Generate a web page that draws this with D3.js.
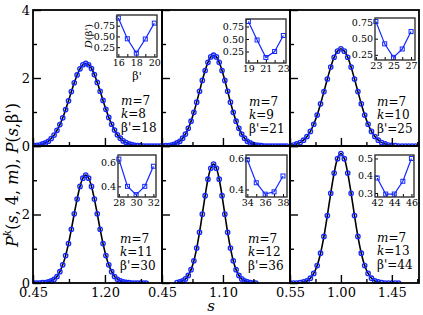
<!DOCTYPE html>
<html>
<head>
<meta charset="utf-8">
<script src="https://cdn.jsdelivr.net/npm/d3@7"></script>
<style>
  body { margin: 0; background: #fff; }
  svg { display: block; }
  text { font-family: "DejaVu Serif", serif; fill: #000; }
</style>
</head>
<body>
<div id="chart"></div>
<script>
// spacing values s (shared grid of the histograms)
const sGrid = [0.46,0.49,0.52,0.55,0.58,0.61,0.64,0.67,0.70,0.73,0.76,0.79,0.82,0.85,0.88,0.91,0.94,0.97,1.00,
  1.03,1.06,1.09,1.12,1.15,1.18,1.21,1.24,1.27,1.30,1.33,1.36,1.39,1.42,1.45,1.48,1.51,1.54,1.57,1.60,1.63,1.66,1.69,1.72,1.75,1.78];

// P^k(s,4,m) for each k (null = no point)
const pK8  = [0.01,0.02,0.03,0.06,0.09,0.14,0.22,0.32,0.46,0.63,0.83,1.07,1.33,1.60,1.86,2.09,2.27,2.39,2.43,
  2.39,2.28,2.10,1.87,1.61,1.34,1.08,0.84,0.64,0.47,0.33,0.23,0.15,0.10,0.06,0.04,0.02,0.01,0.01,0,0,0,0,0,0,0];
const pK9  = [0,0.01,0.01,0.03,0.05,0.09,0.14,0.23,0.35,0.52,0.73,0.99,1.29,1.61,1.93,2.22,2.46,2.62,2.67,
  2.62,2.46,2.22,1.93,1.61,1.29,0.99,0.73,0.52,0.35,0.23,0.14,0.09,0.05,0.03,0.02,0.01,0,0,0,0,0,0,0,0,0];
const pK10 = [null,null,null,0.01,0.03,0.06,0.10,0.17,0.28,0.43,0.64,0.91,1.24,1.60,1.97,2.32,2.61,2.79,2.86,
  2.79,2.61,2.32,1.97,1.60,1.24,0.91,0.64,0.43,0.28,0.17,0.10,0.06,0.03,0.02,0.01,0,0,0,0,0,0,0,null,null,null];
const pK11 = [0,0,0,0.01,0.01,0.03,0.06,0.11,0.19,0.33,0.53,0.80,1.15,1.57,2.02,2.45,2.82,3.06,3.15,
  3.06,2.82,2.45,2.02,1.57,1.15,0.80,0.53,0.33,0.19,0.11,0.06,0.03,0.02,0.01,0,0,0,0,0,0,null,null,null,null,null];
const pK12 = [null,null,null,null,null,0.01,0.03,0.06,0.12,0.22,0.39,0.65,1.02,1.48,2.01,2.55,3.03,3.35,3.47,
  3.35,3.03,2.55,2.01,1.48,1.02,0.65,0.39,0.22,0.12,0.06,0.03,0.01,0,0,null,null,null,null,null,null,null,null,null,null,null];
const pK13 = [null,null,null,0,0,0,0.01,0.03,0.06,0.14,0.28,0.51,0.87,1.36,1.97,2.62,3.21,3.63,3.78,
  3.63,3.21,2.62,1.97,1.36,0.87,0.51,0.28,0.14,0.06,0.03,0.01,0,0,0,0,0,null,null,null,null,null,null,null,null,null];

// inset data: D(beta') against beta'
const betaK8 = [16,17,18,19,20],  dK8  = [0.93,0.445,0.11,0.44,0.81];
const betaK9 = [19,20,21,22,23],  dK9  = [0.85,0.48,0.13,0.25,0.57];
const betaK10 = [23,24,25,26,27], dK10 = [0.765,0.42,0.21,0.34,0.61];
const betaK11 = [28,29,30,31,32], dK11 = [0.63,0.40,0.33,0.40,0.57];
const betaK12 = [34,35,36,37,38], dK12 = [0.59,0.443,0.37,0.385,0.486];
const betaK13 = [42,43,44,45,46], dK13 = [0.387,0.294,0.294,0.368,0.50];

const kValues = [8, 9, 10, 11, 12, 13];
const betaBest = [18, 21, 25, 30, 36, 44];
const mValue = 7;

// tick values / labels
const xMajor = [[0.45, 1.20], [0.45, 1.10], [0.55, 1.00, 1.45]];
const xMinor = [[0.825, 1.575], [0.775, 1.425], [0.775, 1.225, 1.675]];
const yMajor = [0, 2, 4];
const yMinor = [1, 3];
const insetYTicks = [[0.25,0.5,0.75],[0.25,0.5,0.75],[0.25,0.5,0.75],[0.4,0.6],[0.4,0.6],[0.3,0.4,0.5]];

// layout
const W = 423, H = 315;
const colX = [33, 162, 290, 419];
const rowY = [10, 146, 283];
const colDomain = [[0.45, 1.795], [0.45, 1.815], [0.55, 1.69]];
const insetBox = [[117,157,15,57],[246,286,19,63],[375,415,18,60],[118,156,155,197],[246,287,155,197],[375,414,155,197]];
const insetXDom = [[15.85,20.3],[18.73,23.3],[22.9,27.45],[27.9,32.3],[33.85,38.45],[41.75,46.3]];
const insetYDom = [[0.02,1.0],[0.02,0.9],[0.17,0.82],[0.31,0.665],[0.352,0.62],[0.277,0.52]];
const notePos = [[121,105],[249,106],[377,106],[120,243],[248,243],[377,242]];

const BLUE = '#1428ff';

const pSeries = [pK8, pK9, pK10, pK11, pK12, pK13];
const betaSeries = [betaK8, betaK9, betaK10, betaK11, betaK12, betaK13];
const dSeries = [dK8, dK9, dK10, dK11, dK12, dK13];

const svg = d3.select('#chart').append('svg')
    .attr('width', W)
    .attr('height', H);

pSeries.forEach((p, i) => {
    const row = Math.floor(i / 3), col = i % 3;
    const x = d3.scaleLinear().domain(colDomain[col]).range([colX[col], colX[col + 1]]);
    const y = d3.scaleLinear().domain([0, 4]).range([rowY[row + 1], rowY[row]]);
    const pts = sGrid.map((s, j) => ({ s: s, p: p[j] })).filter(d => d.p !== null);

    const clipId = 'clip' + i;
    svg.append('clipPath').attr('id', clipId)
        .append('rect')
        .attr('x', colX[col]).attr('y', rowY[row] - 1)
        .attr('width', colX[col + 1] - colX[col])
        .attr('height', rowY[row + 1] - rowY[row] + 2);

    const g = svg.append('g');
    const plot = g.append('g').attr('clip-path', 'url(#' + clipId + ')');

    // ticks (inward)
    const bottom = g.append('g').attr('transform', 'translate(0,' + rowY[row + 1] + ')');
    bottom.call(d3.axisBottom(x).tickValues(xMajor[col]).tickSize(-8).tickPadding(5)
        .tickFormat(row === 1 ? d3.format('.2f') : ''));
    bottom.append('g').call(d3.axisBottom(x).tickValues(xMinor[col]).tickSize(-4).tickFormat(''));

    const left = g.append('g').attr('transform', 'translate(' + colX[col] + ',0)');
    left.call(d3.axisLeft(y).tickValues(yMajor).tickSize(-8).tickPadding(3)
        .tickFormat(d => (col === 0 && !(row === 1 && d === 4)) ? d : ''));
    left.append('g').call(d3.axisLeft(y).tickValues(yMinor).tickSize(-4).tickFormat(''));

    g.selectAll('.domain').remove();
    g.selectAll('.tick line').attr('stroke', '#000').attr('stroke-width', 1.4);
    g.selectAll('.tick text').attr('font-size', 13).attr('font-family', '"DejaVu Serif", serif');

    // curve and points
    plot.append('path')
        .datum(pts)
        .attr('fill', 'none')
        .attr('stroke', '#000')
        .attr('stroke-width', 1.6)
        .attr('d', d3.line().x(d => x(d.s)).y(d => y(d.p)).curve(d3.curveCatmullRom));

    plot.selectAll('circle')
        .data(pts)
        .enter().append('circle')
        .attr('cx', d => x(d.s))
        .attr('cy', d => y(d.p))
        .attr('r', 2.2)
        .attr('fill', 'none')
        .attr('stroke', BLUE)
        .attr('stroke-width', 1.3);

    // panel frame
    g.append('rect')
        .attr('x', colX[col]).attr('y', rowY[row])
        .attr('width', colX[col + 1] - colX[col])
        .attr('height', rowY[row + 1] - rowY[row])
        .attr('fill', 'none')
        .attr('stroke', '#000')
        .attr('stroke-width', 1.8);

    // labels m, k, beta'
    const nx = notePos[i][0], ny = notePos[i][1];
    const t1 = g.append('text').attr('x', nx).attr('y', ny).attr('font-size', 12);
    t1.append('tspan').attr('font-style', 'italic').text('m');
    t1.append('tspan').text('=' + mValue);
    const t2 = g.append('text').attr('x', nx).attr('y', ny + 13).attr('font-size', 12);
    t2.append('tspan').attr('font-style', 'italic').text('k');
    t2.append('tspan').text('=' + kValues[i]);
    g.append('text').attr('x', nx).attr('y', ny + 26.5).attr('font-size', 12)
        .text("\u03b2'=" + betaBest[i]);

    // inset
    const b = insetBox[i];
    const ix = d3.scaleLinear().domain(insetXDom[i]).range([b[0], b[1]]);
    const iy = d3.scaleLinear().domain(insetYDom[i]).range([b[3], b[2]]);
    const ig = g.append('g');
    ig.append('rect')
        .attr('x', b[0]).attr('y', b[2])
        .attr('width', b[1] - b[0]).attr('height', b[3] - b[2])
        .attr('fill', '#fff');

    const beta = betaSeries[i];
    ig.append('g').attr('transform', 'translate(0,' + b[3] + ')')
        .call(d3.axisBottom(ix).tickValues(beta).tickSize(-3).tickPadding(2)
            .tickFormat((d, j) => j % 2 === 0 ? d : ''));
    ig.append('g').attr('transform', 'translate(' + b[0] + ',0)')
        .call(d3.axisLeft(iy).tickValues(insetYTicks[i]).tickSize(-3).tickPadding(2)
            .tickFormat(d3.format(i < 3 ? '.2f' : '.1f')));
    ig.selectAll('.domain').remove();
    ig.selectAll('.tick line').attr('stroke', '#000').attr('stroke-width', 1);
    ig.selectAll('.tick text').attr('font-size', 9.5).attr('font-family', '"DejaVu Serif", serif');

    const ipts = beta.map((bv, j) => ({ b: bv, d: dSeries[i][j] }));
    ig.append('path')
        .datum(ipts)
        .attr('fill', 'none')
        .attr('stroke', BLUE)
        .attr('stroke-width', 1.2)
        .attr('d', d3.line().x(d => ix(d.b)).y(d => iy(d.d)));
    ig.selectAll('rect.mk')
        .data(ipts)
        .enter().append('rect')
        .attr('class', 'mk')
        .attr('x', d => ix(d.b) - 2).attr('y', d => iy(d.d) - 2)
        .attr('width', 4).attr('height', 4)
        .attr('fill', 'none')
        .attr('stroke', BLUE)
        .attr('stroke-width', 1);

    ig.append('rect')
        .attr('x', b[0]).attr('y', b[2])
        .attr('width', b[1] - b[0]).attr('height', b[3] - b[2])
        .attr('fill', 'none')
        .attr('stroke', '#333')
        .attr('stroke-width', 1.4);

    if (i === 0) {
        const dl = ig.append('text')
            .attr('transform', 'translate(92,' + ((b[2] + b[3]) / 2) + ') rotate(-90)')
            .attr('text-anchor', 'middle')
            .attr('font-size', 10);
        dl.append('tspan').attr('font-style', 'italic').text('D');
        dl.append('tspan').text("(\u03b2')");
        ig.append('text')
            .attr('x', (b[0] + b[1]) / 2).attr('y', b[3] + 23)
            .attr('text-anchor', 'middle')
            .attr('font-size', 11)
            .text("\u03b2'");
    }
});

// axis titles
const yt = svg.append('text')
    .attr('transform', 'translate(18,175) rotate(-90)')
    .attr('text-anchor', 'middle')
    .attr('font-size', 16);
yt.append('tspan').attr('font-style', 'italic').text('P');
yt.append('tspan').attr('font-style', 'italic').attr('font-size', 10.5).attr('dy', -7).text('k');
yt.append('tspan').attr('dy', 7).text('(');
yt.append('tspan').attr('font-style', 'italic').text('s');
yt.append('tspan').text(', 4, ');
yt.append('tspan').attr('font-style', 'italic').text('m');
yt.append('tspan').text('), ');
yt.append('tspan').attr('font-style', 'italic').text('P');
yt.append('tspan').text('(');
yt.append('tspan').attr('font-style', 'italic').text('s');
yt.append('tspan').text(",\u03b2')");

svg.append('text')
    .attr('x', 211)
    .attr('y', 311)
    .attr('text-anchor', 'middle')
    .attr('font-size', 15)
    .attr('font-style', 'italic')
    .text('s');
</script>
</body>
</html>
